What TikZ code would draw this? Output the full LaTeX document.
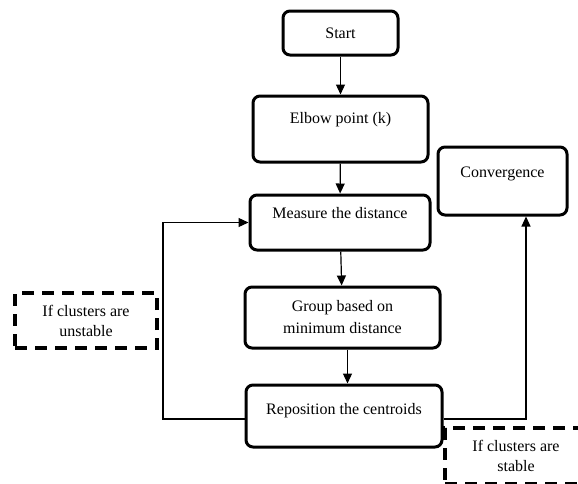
\documentclass[tikz,border=0pt]{standalone}
\usepackage{fontspec}
\setmainfont{Liberation Serif}
\usetikzlibrary{arrows.meta}
\begin{document}
\begin{tikzpicture}[x=1pt,y=-1pt,
  box/.style={draw, line width=3pt, rounded corners=7pt, inner sep=0pt, align=center, font=\fontsize{16}{22}\selectfont},
  dbox/.style={draw, line width=3.5pt, dash pattern=on 12pt off 8pt, inner sep=0pt, align=center, font=\fontsize{16}{20}\selectfont},
  arr/.style={line width=1.2pt, -{Triangle[length=10pt,width=9pt]}},
  ln/.style={line width=1.2pt}]
\useasboundingbox (0,0) rectangle (578,483);
\node[box, minimum width=115pt, minimum height=44pt] (start) at (340.5,33) {Start};
\node[box, minimum width=175pt, text height=27pt, text depth=39pt] (elbow) at (340.5,129) {Elbow point (k)};
\node[box, minimum width=180pt, text height=23pt, text depth=32pt] (measure) at (340,222.5) {Measure the distance};
\node[box, minimum width=195pt, minimum height=61pt] (group) at (342.5,317.5) {Group based on\\minimum distance};
\node[box, minimum width=196pt, text height=29pt, text depth=33pt] (repos) at (344,416) {Reposition the centroids};
\node[box, minimum width=129pt, text height=30pt, text depth=38pt] (conv) at (502.5,181) {Convergence};
\node[dbox, minimum width=142pt, minimum height=55pt] (unst) at (86,320.5) {If clusters are\\unstable};
\node[dbox, minimum width=142pt, minimum height=56pt] (stab) at (516,456) {If clusters are\\stable};
\coordinate (lc) at (163,419);
\coordinate (rc) at (526,419);
\draw[arr] (start) -- (elbow);
\draw[arr] (elbow) -- (measure);
\draw[arr] (measure) -- (group);
\draw[arr] ([xshift=5pt]group.south) -- ([xshift=5pt]group.south |- repos.north);
\draw[arr] (repos.west |- lc) -- (lc) |- (measure.west);
\draw[arr] (repos.east |- rc) -- (rc) -- (rc |- conv.south);
\end{tikzpicture}
\end{document}
